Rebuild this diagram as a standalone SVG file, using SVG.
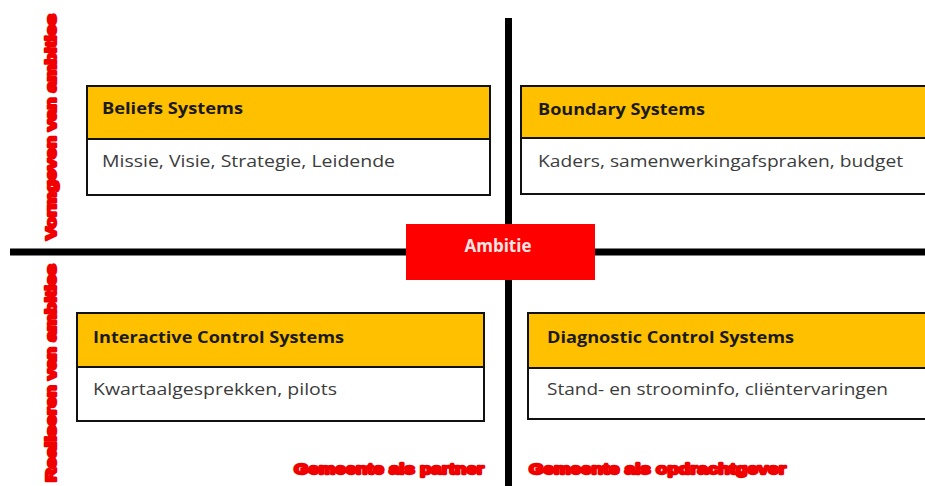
<svg xmlns="http://www.w3.org/2000/svg" width="925" height="486" viewBox="0 0 925 486">
  <style>
    .axis { stroke: #000; stroke-width: 7; fill: none; }
    .head { fill: #FFC000; stroke: #111; stroke-width: 2; }
    .body { fill: #fff; stroke: #111; stroke-width: 2; }
    .ht { font-family: "Open Sans", "Liberation Sans", sans-serif; font-weight: bold; font-size: 16px; fill: #1a1a1a; }
    .bt { font-family: "Open Sans", "Liberation Sans", sans-serif; font-size: 16px; fill: #3c3c3c; }
    .red { font-family: "Liberation Sans", Arial, sans-serif; font-weight: bold; font-size: 15px; fill: #F00000; stroke: #F00000; stroke-width: 2.4; stroke-linejoin: round; }
  </style>

  <rect width="925" height="486" fill="#fff"/>

  <!-- cross axes -->
  <g id="connectors">
    <line class="axis" x1="508.5" y1="18" x2="508.5" y2="486"/>
    <line class="axis" x1="10" y1="252" x2="925" y2="252"/>
  </g>

  <!-- axis captions -->
  <g id="axis-labels">
    <text class="red" transform="translate(56,240) rotate(-90)" textLength="226" lengthAdjust="spacingAndGlyphs">Vormgeven van ambities</text>
    <text class="red" transform="translate(56,482) rotate(-90)" textLength="218" lengthAdjust="spacingAndGlyphs">Realiseren van ambities</text>
    <text class="red" x="294" y="474" textLength="190" lengthAdjust="spacingAndGlyphs">Gemeente als partner</text>
    <text class="red" x="529" y="474" textLength="257" lengthAdjust="spacingAndGlyphs">Gemeente als opdrachtgever</text>
  </g>

  <g id="beliefs">
    <rect class="body" x="87" y="86" width="403" height="109"/>
    <rect class="head" x="87" y="86" width="403" height="53"/>
    <text class="ht" x="102" y="114" textLength="141" lengthAdjust="spacingAndGlyphs">Beliefs Systems</text>
    <text class="bt" x="102" y="167" textLength="293" lengthAdjust="spacingAndGlyphs">Missie, Visie, Strategie, Leidende</text>
  </g>

  <g id="boundary">
    <rect class="body" x="521" y="86" width="410" height="108"/>
    <rect class="head" x="521" y="86" width="410" height="52"/>
    <text class="ht" x="538" y="115" textLength="167" lengthAdjust="spacingAndGlyphs">Boundary Systems</text>
    <text class="bt" x="538" y="167" textLength="365" lengthAdjust="spacingAndGlyphs">Kaders, samenwerkingafspraken, budget</text>
  </g>

  <g id="ambitie">
    <rect x="406" y="224" width="189" height="56" fill="#FF0000"/>
    <text x="498" y="252" text-anchor="middle" font-family="Open Sans, Liberation Sans, sans-serif" font-weight="bold" font-size="17" fill="#FFE4E4">Ambitie</text>
  </g>

  <g id="interactive">
    <rect class="body" x="77" y="313" width="407" height="108"/>
    <rect class="head" x="77" y="313" width="407" height="54"/>
    <text class="ht" x="93" y="343" textLength="251" lengthAdjust="spacingAndGlyphs">Interactive Control Systems</text>
    <text class="bt" x="93" y="395" textLength="244" lengthAdjust="spacingAndGlyphs">Kwartaalgesprekken, pilots</text>
  </g>

  <g id="diagnostic">
    <rect class="body" x="528" y="313" width="403" height="106"/>
    <rect class="head" x="528" y="313" width="403" height="55"/>
    <text class="ht" x="547" y="343" textLength="247" lengthAdjust="spacingAndGlyphs">Diagnostic Control Systems</text>
    <text class="bt" x="547" y="395" textLength="341" lengthAdjust="spacingAndGlyphs">Stand- en stroominfo, cliëntervaringen</text>
  </g>
</svg>
